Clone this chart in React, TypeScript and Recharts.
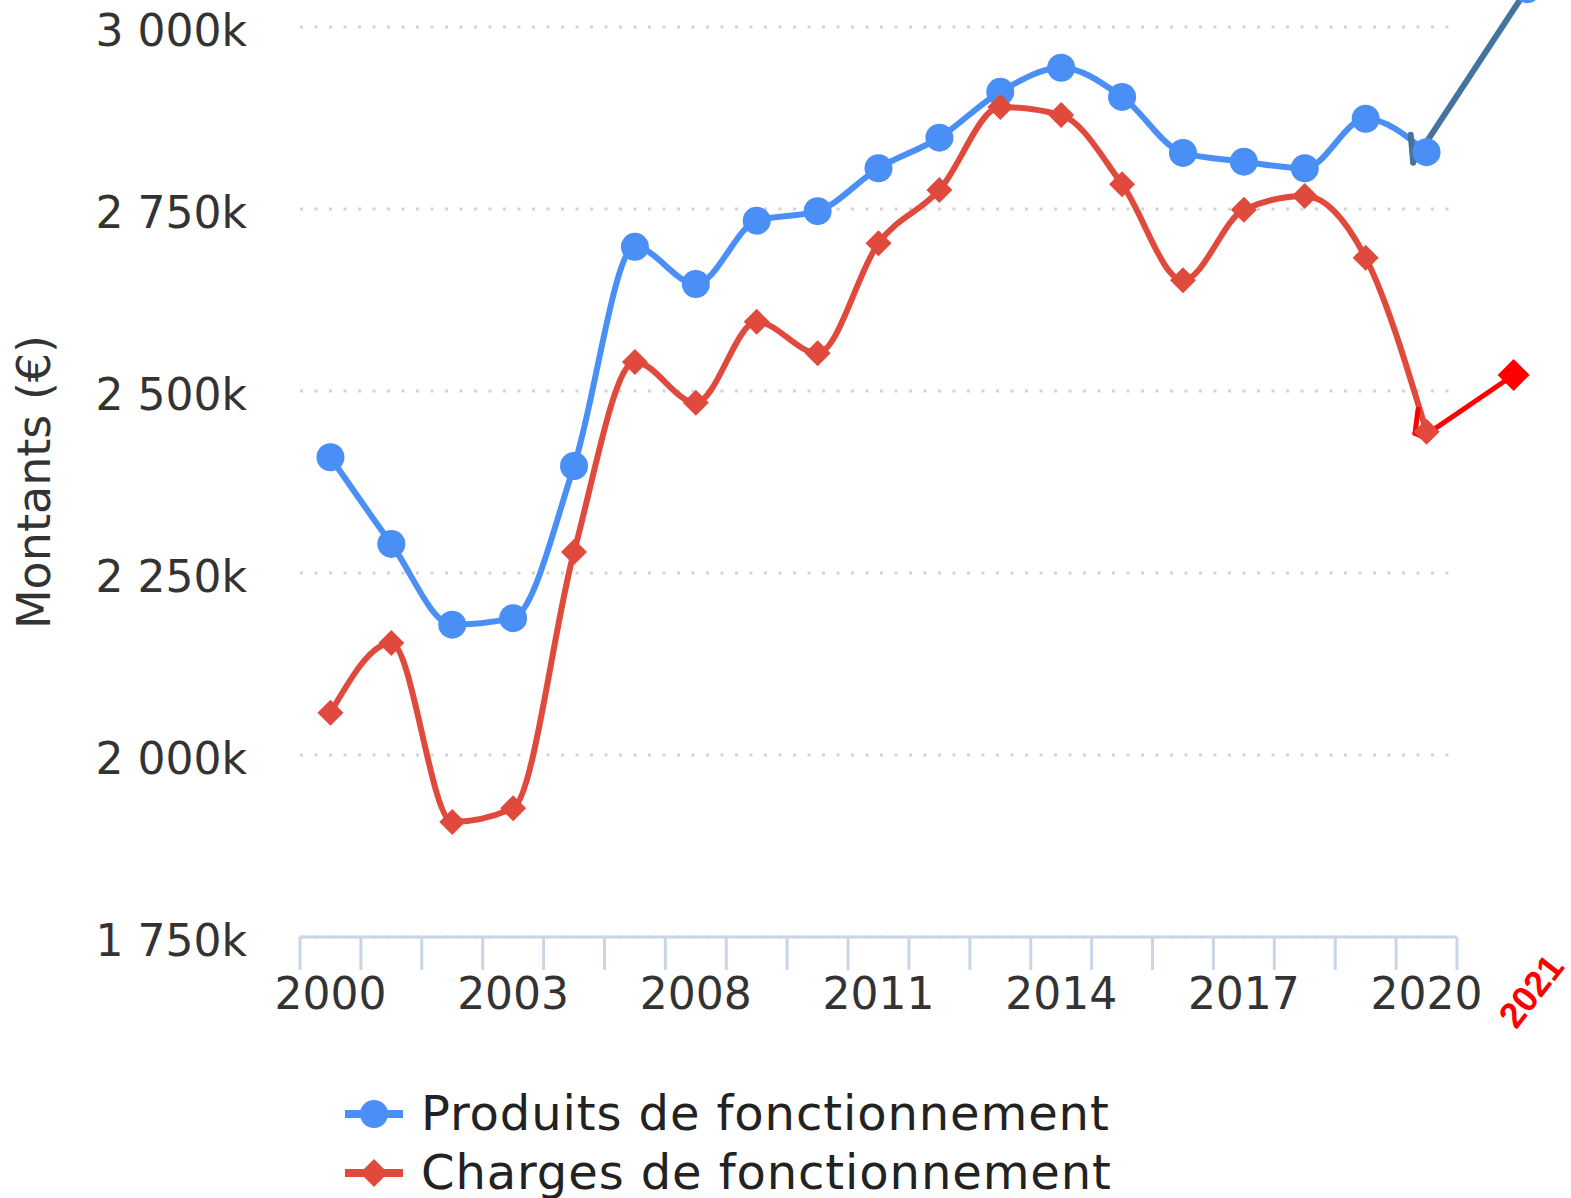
import {
    LineChart,
    Line,
    XAxis,
    YAxis,
    CartesianGrid,
    Legend,
    ReferenceLine,
    ReferenceDot,
} from "recharts";

// years shown on the axis (19 bands, some years missing)
const years = [
    "2000", "2001", "2002", "2003", "2004", "2006", "2008", "2009", "2010", "2011",
    "2012", "2013", "2014", "2015", "2016", "2017", "2018", "2019", "2020",
];

// values in k€
const produits = [
    2409, 2290, 2179, 2188, 2397, 2698, 2647, 2734, 2747, 2806,
    2848, 2911, 2944, 2904, 2827, 2815, 2806, 2874, 2828,
];
const charges = [
    2058, 2154, 1908, 1927, 2279, 2540, 2484, 2595, 2552, 2703,
    2776, 2890, 2879, 2784, 2652, 2749, 2768, 2683, 2444,
];

const yTicks = [1750, 2000, 2250, 2500, 2750, 3000];
const labelIdx = [0, 3, 6, 9, 12, 15, 18];

// hand-drawn 2021 annotations (x in band index units, y in k€)
const blueArrow = [
    { x: 17.74, y: 2852 },
    { x: 17.78, y: 2814 },
    { x: 19.65, y: 3052 },
];
const redArrow = [
    { x: 17.86, y: 2475 },
    { x: 17.81, y: 2442 },
    { x: 17.94, y: 2437 },
    { x: 19.43, y: 2522 },
];
const produits2021 = { x: 19.65, y: 3052 };
const charges2021 = { x: 19.43, y: 2522 };

const BLUE = "#4a8ff5";
const RED = "#e04a3c";
const ANNOT_BLUE = "#44739e";
const ANNOT_RED = "#ff0000";
const AXIS = "#c9d6e8";
const TEXT = "#333333";
const FONT = "DejaVu Sans";

const series = [
    { key: "produits", name: "Produits de fonctionnement", color: BLUE, marker: "circle" },
    { key: "charges", name: "Charges de fonctionnement", color: RED, marker: "diamond" },
];

const rows = years.map((year, i) => ({
    idx: i,
    year,
    produits: produits[i],
    charges: charges[i],
}));

const bandEdges = [...years.map((_, i) => i - 0.5), years.length - 0.5];
const xDomain = [-0.5, years.length - 0.5];

const formatK = (v: number) =>
    `${Math.floor(v / 1000)} ${String(v % 1000).padStart(3, "0")}k`;

const diamondPath = (cx: number, cy: number, r: number) =>
    `M${cx},${cy - r}L${cx + r},${cy}L${cx},${cy + r}L${cx - r},${cy}Z`;

const pairs = (pts: { x: number; y: number }[]) =>
    pts.slice(1).map((p, i) => [pts[i], p]);

function LegendBox() {
    return (
        <div style={{ display: "flex", flexDirection: "column" }}>
            {series.map((s) => (
                <div key={s.key} style={{ display: "flex", alignItems: "center", height: 59 }}>
                    <svg width={58} height={30}>
                        <line x1={0} x2={58} y1={15} y2={15} stroke={s.color} strokeWidth={8} />
                        {s.marker === "circle" ? (
                            <circle cx={29} cy={15} r={14} fill={s.color} />
                        ) : (
                            <path d={diamondPath(29, 15, 14)} fill={s.color} />
                        )}
                    </svg>
                    <span
                        style={{
                            marginLeft: 18,
                            fontSize: 48,
                            fontFamily: FONT,
                            color: "#222",
                            letterSpacing: 0.9,
                            lineHeight: "59px",
                            whiteSpace: "nowrap",
                        }}
                    >
                        {s.name}
                    </span>
                </div>
            ))}
        </div>
    );
}

export default function App() {
    return (
        <div style={{ position: "absolute", left: 0, top: 0, width: 1571, height: 1198, background: "#fff" }}>
            <LineChart
                width={1571}
                height={1198}
                data={rows}
                margin={{ top: 27, right: 114, left: 0, bottom: 200 }}
            >
                <CartesianGrid
                    vertical={false}
                    stroke="#d4d4d4"
                    strokeWidth={3}
                    strokeDasharray="3 11.5"
                />
                <XAxis
                    dataKey="idx"
                    type="number"
                    domain={xDomain}
                    ticks={bandEdges}
                    interval={0}
                    tickFormatter={() => ""}
                    height={1}
                    tickSize={33}
                    axisLine={{ stroke: AXIS, strokeWidth: 3 }}
                    tickLine={{ stroke: AXIS, strokeWidth: 3 }}
                />
                <XAxis
                    xAxisId="labels"
                    dataKey="idx"
                    type="number"
                    domain={xDomain}
                    ticks={labelIdx}
                    interval={0}
                    tickFormatter={(i: number) => years[i]}
                    height={60}
                    tickSize={0}
                    tickMargin={40}
                    axisLine={false}
                    tickLine={false}
                    tick={{ fontSize: 44, fill: TEXT, fontFamily: FONT }}
                />
                <YAxis
                    type="number"
                    domain={[1750, 3000]}
                    ticks={yTicks}
                    interval={0}
                    width={300}
                    tickSize={0}
                    tickMargin={53}
                    axisLine={false}
                    tickLine={false}
                    tickFormatter={formatK}
                    tick={{ fontSize: 44, fill: TEXT, fontFamily: FONT, dy: 3 }}
                    label={{
                        content: (p: any) => {
                            const vb = p.viewBox || { x: 0, y: 27, width: 300, height: 910 };
                            const cx = vb.x + 50;
                            const cy = vb.y + vb.height / 2;
                            return (
                                <text
                                    x={cx}
                                    y={cy}
                                    transform={`rotate(-90, ${cx}, ${cy})`}
                                    textAnchor="middle"
                                    fontSize={46}
                                    fontFamily={FONT}
                                    fill={TEXT}
                                >
                                    Montants (€)
                                </text>
                            );
                        },
                    }}
                />
                <Legend
                    layout="vertical"
                    align="center"
                    verticalAlign="middle"
                    wrapperStyle={{ top: 1084, left: 345, width: "auto" }}
                    content={() => <LegendBox />}
                />
                <Line
                    dataKey="produits"
                    name={series[0].name}
                    type="monotone"
                    stroke={BLUE}
                    strokeWidth={6}
                    dot={{ r: 14, fill: BLUE, stroke: "none" }}
                    activeDot={false}
                    isAnimationActive={false}
                />
                <Line
                    dataKey="charges"
                    name={series[1].name}
                    type="monotone"
                    stroke={RED}
                    strokeWidth={6}
                    dot={(p: any) => (
                        <path key={`d-${p.index}`} d={diamondPath(p.cx, p.cy, 13)} fill={RED} />
                    )}
                    activeDot={false}
                    isAnimationActive={false}
                />
                {pairs(blueArrow).map((seg, i) => (
                    <ReferenceLine
                        key={`ba-${i}`}
                        segment={seg}
                        stroke={ANNOT_BLUE}
                        strokeWidth={6}
                        strokeLinecap="round"
                        ifOverflow="visible"
                    />
                ))}
                <ReferenceDot
                    x={produits2021.x}
                    y={produits2021.y}
                    r={14}
                    fill={BLUE}
                    stroke="none"
                    ifOverflow="visible"
                />
                {pairs(redArrow).map((seg, i) => (
                    <ReferenceLine
                        key={`ra-${i}`}
                        segment={seg}
                        stroke={ANNOT_RED}
                        strokeWidth={5}
                        strokeLinecap="round"
                        ifOverflow="visible"
                    />
                ))}
                <ReferenceDot
                    x={charges2021.x}
                    y={charges2021.y}
                    r={16}
                    ifOverflow="visible"
                    shape={(p: any) => <path d={diamondPath(p.cx, p.cy, 16)} fill={ANNOT_RED} />}
                />
                <ReferenceDot
                    x={19.6}
                    y={1750}
                    r={0}
                    fill="none"
                    stroke="none"
                    ifOverflow="visible"
                    label={{
                        content: (p: any) => {
                            const vb = p.viewBox || { x: 0, y: 0 };
                            const tx = vb.x + 7;
                            const ty = vb.y + 54;
                            return (
                                <text
                                    x={tx}
                                    y={ty}
                                    transform={`rotate(-52, ${tx}, ${ty})`}
                                    textAnchor="middle"
                                    dominantBaseline="central"
                                    fontSize={36}
                                    fontWeight="bold"
                                    fontFamily="Liberation Sans"
                                    fill={ANNOT_RED}
                                >
                                    2021
                                </text>
                            );
                        },
                    }}
                />
            </LineChart>
        </div>
    );
}
